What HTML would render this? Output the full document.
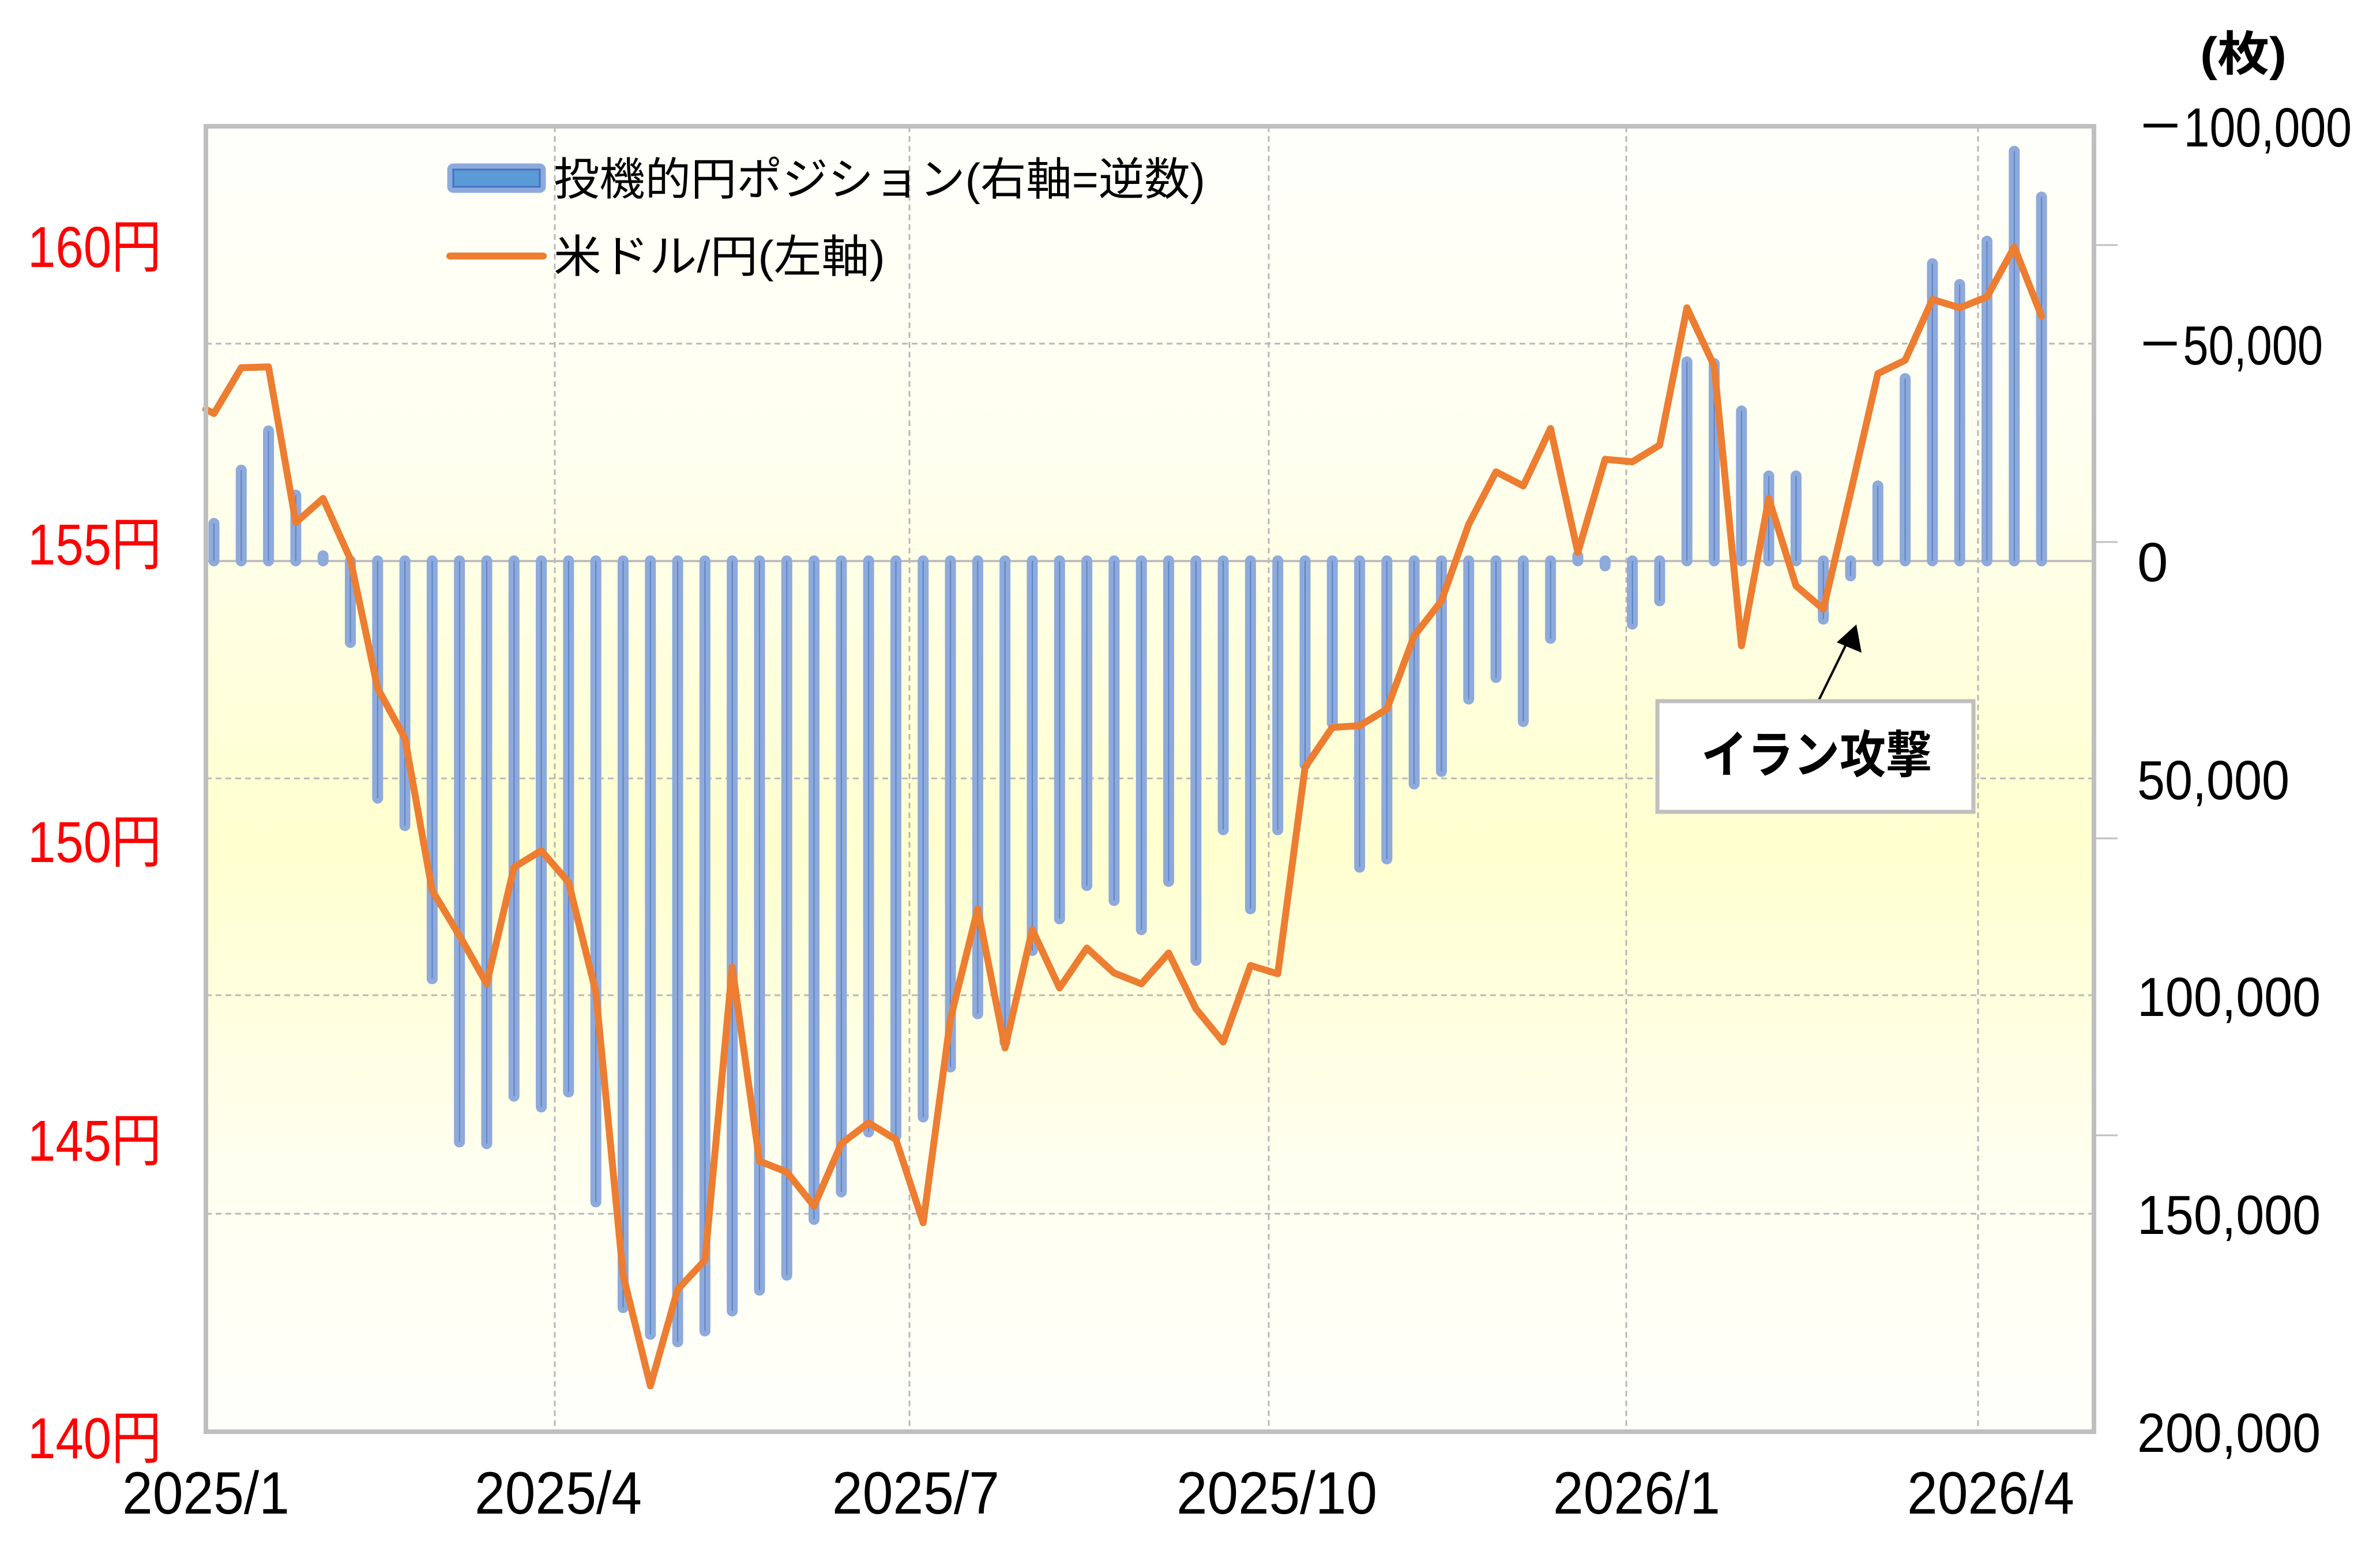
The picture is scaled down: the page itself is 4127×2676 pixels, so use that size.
<!DOCTYPE html>
<html><head><meta charset="utf-8"><style>
html,body{margin:0;padding:0;background:#fff;}
svg{display:block;}
</style></head><body>
<svg width="4127" height="2676" viewBox="0 0 4127 2676" xmlns="http://www.w3.org/2000/svg">
<defs>
<linearGradient id="bg" x1="0" y1="0" x2="0" y2="1">
<stop offset="0" stop-color="#fffffb"/>
<stop offset="0.25" stop-color="#fffff0"/>
<stop offset="0.55" stop-color="#ffffcf"/>
<stop offset="0.8" stop-color="#fffff0"/>
<stop offset="1" stop-color="#fffffb"/>
</linearGradient>
</defs>
<rect x="357" y="219" width="3274" height="2264" fill="url(#bg)"/>
<g stroke="#b8b8b8" stroke-width="3" stroke-dasharray="10,7" fill="none">
<line x1="357" y1="596" x2="3631" y2="596"/>
<line x1="357" y1="1350" x2="3631" y2="1350"/>
<line x1="357" y1="1726" x2="3631" y2="1726"/>
<line x1="357" y1="2105" x2="3631" y2="2105"/>
<line x1="962" y1="219" x2="962" y2="2483"/>
<line x1="1577" y1="219" x2="1577" y2="2483"/>
<line x1="2200" y1="219" x2="2200" y2="2483"/>
<line x1="2820" y1="219" x2="2820" y2="2483"/>
<line x1="3430" y1="219" x2="3430" y2="2483"/>
</g>
<line x1="357" y1="973" x2="3631" y2="973" stroke="#bfbfbf" stroke-width="4"/>
<svg x="0" y="219" width="4127" height="2264" viewBox="-7.8436 0 87.252 1568" preserveAspectRatio="none" overflow="visible">
<g stroke="#8eaadb" stroke-width="19" stroke-linecap="round" fill="none">
<path vector-effect="non-scaling-stroke" d="M0 522V477M1 522V413M2 522V366M3 522V443M4 522V516M5 522V620M6 522V807M7 522V840M8 522V1024M9 522V1220M10 522V1222M11 522V1165M12 522V1178M13 522V1160M14 522V1292M15 522V1419M16 522V1451M17 522V1460M18 522V1447M19 522V1423M20 522V1398M21 522V1380M22 522V1313M23 522V1280M24 522V1208M25 522V1213M26 522V1190M27 522V1130M28 522V1066M29 522V1100M30 522V990M31 522V952M32 522V912M33 522V930M34 522V965M35 522V907M36 522V1002M37 522V845M38 522V940M39 522V845M40 522V767M41 522V717M42 522V890M43 522V880M44 522V790M45 522V775M46 522V688M47 522V662M48 522V715M49 522V615M50 522V516M51 522V528M52 522V598M53 522V570M54 522V283M55 522V285M56 522V342M57 522V420M58 522V420M59 522V592M60 522V540M61 522V432M62 522V303M63 522V165M64 522V190M65 522V138M66 522V30M67 522V85"/>
</g>
<g stroke="#5b83c8" stroke-width="2" fill="none">
<path vector-effect="non-scaling-stroke" d="M0 522V477M1 522V413M2 522V366M3 522V443M5 522V620M6 522V807M7 522V840M8 522V1024M9 522V1220M10 522V1222M11 522V1165M12 522V1178M13 522V1160M14 522V1292M15 522V1419M16 522V1451M17 522V1460M18 522V1447M19 522V1423M20 522V1398M21 522V1380M22 522V1313M23 522V1280M24 522V1208M25 522V1213M26 522V1190M27 522V1130M28 522V1066M29 522V1100M30 522V990M31 522V952M32 522V912M33 522V930M34 522V965M35 522V907M36 522V1002M37 522V845M38 522V940M39 522V845M40 522V767M41 522V717M42 522V890M43 522V880M44 522V790M45 522V775M46 522V688M47 522V662M48 522V715M49 522V615M52 522V598M53 522V570M54 522V283M55 522V285M56 522V342M57 522V420M58 522V420M59 522V592M60 522V540M61 522V432M62 522V303M63 522V165M64 522V190M65 522V138M66 522V30M67 522V85"/>
</g>
<polyline vector-effect="non-scaling-stroke" fill="none" stroke="#ed7d31" stroke-width="12" stroke-linejoin="round" stroke-linecap="round"
points="-0.3,340 0,345 1,290 2,289 3,476 4,447 5,520 6,675 7,735 8,918 9,972 10,1030 11,890 12,870 13,908 14,1040 15,1380 16,1513 17,1397 18,1362 19,1010 20,1243 21,1256 22,1297 23,1222 24,1197 25,1217 26,1317 27,1072 28,940 29,1107 30,965 31,1035 32,987 33,1017 34,1030 35,993 36,1060 37,1100 38,1008 39,1018 40,770 41,722 42,720 43,700 44,612 45,570 46,478 47,415 48,432 49,363 50,512 51,400 52,403 53,383 54,218 55,288 56,624 57,447 58,552 59,580 60,440 61,297 62,281 63,208 64,218 65,205 66,145 67,228"/>
</svg>
<rect x="357" y="219" width="3274" height="2264" fill="none" stroke="#bfbfbf" stroke-width="8"/>
<g stroke="#bfbfbf" stroke-width="3">
<line x1="3631" y1="425" x2="3672" y2="425"/>
<line x1="3631" y1="940" x2="3672" y2="940"/>
<line x1="3631" y1="1454" x2="3672" y2="1454"/>
<line x1="3631" y1="1969" x2="3672" y2="1969"/>
</g>
<rect x="780" y="288" width="162" height="42" rx="6" fill="#5b9bd5" stroke="#8eaadb" stroke-width="9"/>
<rect x="786" y="294" width="150" height="30" fill="none" stroke="#4472c4" stroke-width="3"/>
<line x1="780" y1="444" x2="942" y2="444" stroke="#ed7d31" stroke-width="12" stroke-linecap="round"/>
<g font-family="'Liberation Sans','Noto Sans CJK JP',sans-serif" fill="#000">
<text x="960" y="338" font-size="78" textLength="1130" lengthAdjust="spacingAndGlyphs">投機的円ポジション(右軸=逆数)</text>
<text x="960" y="472" font-size="78" textLength="575" lengthAdjust="spacingAndGlyphs">米ドル/円(左軸)</text>
</g>
<line x1="3154" y1="1214" x2="3205" y2="1110" stroke="#000" stroke-width="4"/>
<polygon points="3219,1083 3228,1132 3185,1114" fill="#000"/>
<rect x="2874" y="1216" width="548" height="192" fill="#fff" stroke="#bfbfbf" stroke-width="7"/>
<text x="3150" y="1340" font-size="88" font-weight="bold" text-anchor="middle" font-family="'Liberation Sans','Noto Sans CJK JP',sans-serif" textLength="400" lengthAdjust="spacingAndGlyphs">イラン攻撃</text>
<g font-family="'Liberation Sans','Noto Sans CJK JP',sans-serif" font-size="100" fill="#ff0000">
<text x="48" y="463" textLength="232" lengthAdjust="spacingAndGlyphs">160円</text>
<text x="48" y="979" textLength="232" lengthAdjust="spacingAndGlyphs">155円</text>
<text x="48" y="1495" textLength="232" lengthAdjust="spacingAndGlyphs">150円</text>
<text x="48" y="2013" textLength="232" lengthAdjust="spacingAndGlyphs">145円</text>
<text x="48" y="2529" textLength="232" lengthAdjust="spacingAndGlyphs">140円</text>
</g>
<g font-family="'Liberation Sans','Noto Sans CJK JP',sans-serif" font-size="96" fill="#000">
<text x="3706" y="254" textLength="372" lengthAdjust="spacingAndGlyphs">－100,000</text>
<text x="3706" y="632" textLength="322" lengthAdjust="spacingAndGlyphs">－50,000</text>
<text x="3706" y="1008">0</text>
<text x="3706" y="1386" textLength="264" lengthAdjust="spacingAndGlyphs">50,000</text>
<text x="3706" y="1762" textLength="318" lengthAdjust="spacingAndGlyphs">100,000</text>
<text x="3706" y="2140" textLength="318" lengthAdjust="spacingAndGlyphs">150,000</text>
<text x="3706" y="2518" textLength="318" lengthAdjust="spacingAndGlyphs">200,000</text>
</g>
<text x="3890" y="122" text-anchor="middle" font-size="82" font-weight="bold" font-family="'Liberation Sans','Noto Sans CJK JP',sans-serif" textLength="150" lengthAdjust="spacingAndGlyphs">(枚)</text>
<g font-family="'Liberation Sans',sans-serif" font-size="104" fill="#000" text-anchor="middle">
<text x="357" y="2625" textLength="290" lengthAdjust="spacingAndGlyphs">2025/1</text>
<text x="968" y="2625" textLength="290" lengthAdjust="spacingAndGlyphs">2025/4</text>
<text x="1588" y="2625" textLength="290" lengthAdjust="spacingAndGlyphs">2025/7</text>
<text x="2214" y="2625" textLength="348" lengthAdjust="spacingAndGlyphs">2025/10</text>
<text x="2838" y="2625" textLength="290" lengthAdjust="spacingAndGlyphs">2026/1</text>
<text x="3452" y="2625" textLength="290" lengthAdjust="spacingAndGlyphs">2026/4</text>
</g>
</svg>
</body></html>
